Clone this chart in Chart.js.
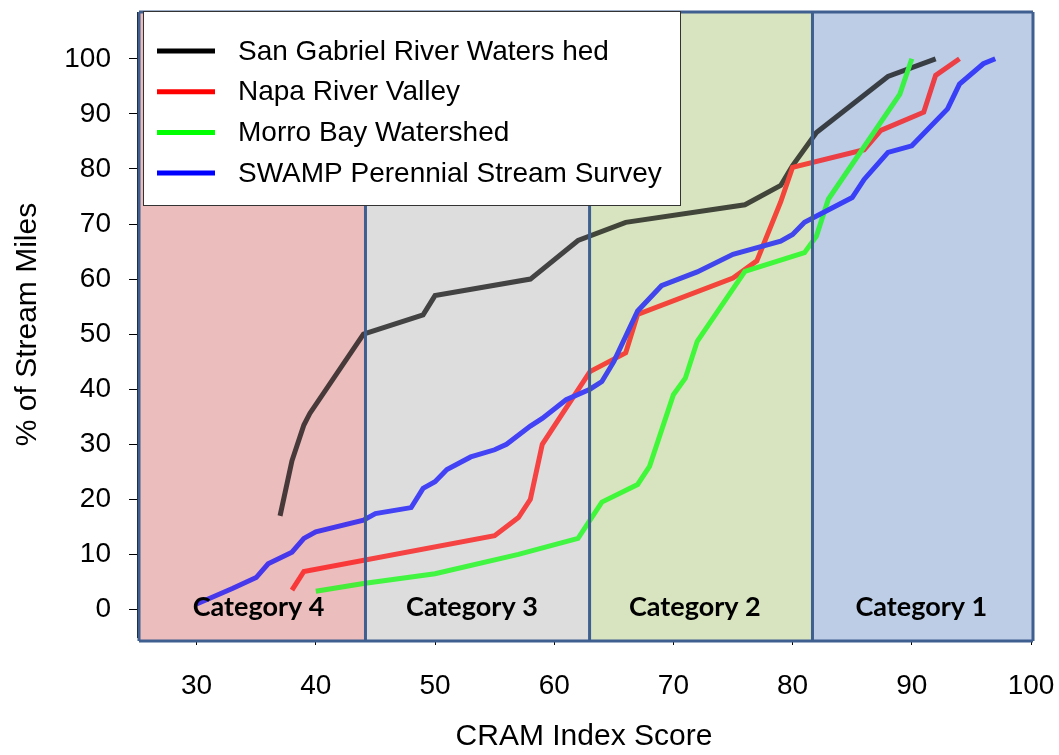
<!DOCTYPE html>
<html>
<head>
<meta charset="utf-8">
<script src="https://cdn.jsdelivr.net/npm/chart.js@4/dist/chart.umd.min.js"></script>
<style>
  html, body { margin: 0; padding: 0; background: #fff; }
  #wrap { width: 1059px; height: 755px; position: relative; }
</style>
</head>
<body>
<div id="wrap"><canvas id="cramChart"></canvas></div>
<script>
// Cumulative % of stream miles vs CRAM index score
const seriesNames = ["San Gabriel River Waters hed", "Napa River Valley", "Morro Bay Watershed", "SWAMP Perennial Stream Survey"];
const seriesColors = ["#000000", "#ff0000", "#00ff00", "#0000ff"];

const sanGabrielX = [37, 38, 39, 39.5, 44, 49, 50, 58, 62, 66, 76, 79, 80, 82, 88, 92];
const sanGabrielY = [17, 27, 33.5, 35.6, 50, 53.5, 57, 60, 67, 70.3, 73.5, 77, 80.6, 86.6, 96.8, 100];

const napaX = [38, 39, 55, 57, 58, 59, 63, 66, 67, 75, 77, 79, 80, 86, 87.4, 91, 92, 94];
const napaY = [3.5, 6.9, 13.4, 16.7, 20, 30, 43.2, 46.6, 53.6, 60.2, 63.3, 74, 80.3, 83.5, 87, 90.3, 97, 100];

const morroX = [40, 44, 50, 57, 62, 64, 67, 68, 70, 71, 72, 76, 81, 82, 83, 89, 90];
const morroY = [3.3, 4.7, 6.5, 10, 12.9, 19.5, 22.7, 26, 39, 42, 48.7, 61.4, 64.8, 67.8, 74.5, 93.6, 100];

const swampX = [30, 33, 35, 36, 38, 39, 40, 44, 45, 48, 49, 50, 51, 53, 55, 56, 58, 59, 61, 63, 64, 65, 67, 69, 72, 75, 79, 80, 81, 85, 86, 88, 90, 93, 94, 96, 97];
const swampY = [1, 3.8, 5.8, 8.3, 10.4, 12.9, 14.1, 16.2, 17.4, 18.5, 22, 23.2, 25.4, 27.7, 29, 30, 33.3, 34.7, 38.1, 40, 41.4, 45, 54.2, 58.8, 61.3, 64.5, 66.9, 68.1, 70.3, 74.8, 78.1, 83, 84.2, 90.9, 95.4, 99.1, 100];

const xTicks = [30, 40, 50, 60, 70, 80, 90, 100];
const yTicks = [0, 10, 20, 30, 40, 50, 60, 70, 80, 90, 100];

// category bands (score ranges) and their labels
const bandEdges = [25, 44, 62.8, 81.5, 100];
const bandColors = ["#ecbdbd", "#dddddd", "#d8e4bf", "#bccde5"];
const bandLabels = ["Category 4", "Category 3", "Category 2", "Category 1"];
const bandLabelX = [35.2, 53.1, 71.8, 90.8];

const toPoints = (xs, ys) => xs.map((x, i) => ({ x: x, y: ys[i] }));
const allX = [sanGabrielX, napaX, morroX, swampX];
const allY = [sanGabrielY, napaY, morroY, swampY];

const bandsPlugin = {
    id: "bands",
    beforeDatasetsDraw(chart) {
        const { ctx, chartArea, scales } = chart;
        ctx.save();
        for (let i = 0; i < bandColors.length; i++) {
            const x0 = scales.x.getPixelForValue(bandEdges[i]);
            const x1 = scales.x.getPixelForValue(bandEdges[i + 1]);
            ctx.fillStyle = bandColors[i];
            ctx.fillRect(x0 + 2, chartArea.top, x1 - x0, chartArea.bottom - chartArea.top + 4);
        }
        ctx.restore();
    },
    afterDatasetsDraw(chart) {
        const { ctx, chartArea, scales } = chart;
        const top = chartArea.top;
        const bottom = chartArea.bottom + 4;
        ctx.save();
        // tint the lines with the band colour
        ctx.globalAlpha = 0.3;
        for (let i = 0; i < bandColors.length; i++) {
            const x0 = scales.x.getPixelForValue(bandEdges[i]);
            const x1 = scales.x.getPixelForValue(bandEdges[i + 1]);
            ctx.fillStyle = bandColors[i];
            ctx.fillRect(x0 + 2, top, x1 - x0, bottom - top);
        }
        ctx.globalAlpha = 1;
        // band borders
        ctx.strokeStyle = "#3e5f8f";
        ctx.lineWidth = 3;
        for (let i = 0; i < bandEdges.length; i++) {
            const x = scales.x.getPixelForValue(bandEdges[i]) + 2;
            ctx.beginPath();
            ctx.moveTo(x, top);
            ctx.lineTo(x, bottom);
            ctx.stroke();
        }
        ctx.beginPath();
        ctx.moveTo(scales.x.getPixelForValue(25) + 2, top);
        ctx.lineTo(scales.x.getPixelForValue(100) + 2, top);
        ctx.moveTo(scales.x.getPixelForValue(25) + 2, bottom);
        ctx.lineTo(scales.x.getPixelForValue(100) + 2, bottom);
        ctx.stroke();
        // category labels
        ctx.fillStyle = "#000";
        ctx.font = "bold 27px Lato, 'Open Sans', sans-serif";
        ctx.textAlign = "center";
        ctx.textBaseline = "middle";
        for (let i = 0; i < bandLabels.length; i++) {
            ctx.fillText(bandLabels[i], scales.x.getPixelForValue(bandLabelX[i]), scales.y.getPixelForValue(0) - 2);
        }
        ctx.restore();
    },
    afterDraw(chart) {
        // legend box inside the plot, top-left
        const { ctx, chartArea } = chart;
        const left = chartArea.left + 6;
        const top = 11;
        ctx.save();
        ctx.fillStyle = "#fff";
        ctx.fillRect(left, top, 537, 194);
        ctx.strokeStyle = "#333";
        ctx.lineWidth = 1;
        ctx.strokeRect(left + 0.5, top + 0.5, 537, 194);
        ctx.font = "28px 'Liberation Sans', Arial, sans-serif";
        ctx.textBaseline = "middle";
        ctx.textAlign = "left";
        chart.data.datasets.forEach((ds, i) => {
            const y = top + 40 + i * 40.7;
            ctx.strokeStyle = ds.borderColor;
            ctx.lineWidth = 5;
            ctx.beginPath();
            ctx.moveTo(left + 14, y);
            ctx.lineTo(left + 72, y);
            ctx.stroke();
            ctx.fillStyle = "#000";
            ctx.fillText(ds.label, left + 95, y + 1);
        });
        ctx.restore();
    }
};

const ctx = document.getElementById("cramChart").getContext("2d");
new Chart(ctx, {
    type: "line",
    data: {
        datasets: seriesNames.map((name, i) => ({
            label: name,
            data: toPoints(allX[i], allY[i]),
            borderColor: seriesColors[i],
            backgroundColor: seriesColors[i],
            borderWidth: 5,
            pointRadius: 0,
            tension: 0,
            fill: false,
            order: 4 - i
        }))
    },
    options: {
        responsive: true,
        maintainAspectRatio: false,
        animation: false,
        layout: { padding: { top: 12, right: 28, left: 0, bottom: 0 } },
        plugins: {
            legend: { display: false },
            tooltip: { enabled: false }
        },
        scales: {
            x: {
                type: "linear",
                min: 25,
                max: 100,
                z: 1,
                afterBuildTicks: (s) => { s.ticks = xTicks.map(v => ({ value: v })); },
                afterFit: (s) => { s.height = 118; s.paddingLeft = 0; s.paddingRight = 0; },
                grid: { drawOnChartArea: false, drawTicks: true, tickLength: 8, color: "#000" },
                border: { color: "#1f2f4f", width: 1 },
                ticks: {
                    color: "#000",
                    padding: 24,
                    font: { family: "'Liberation Sans', Arial, sans-serif", size: 28 }
                },
                title: {
                    display: true,
                    text: "CRAM Index Score",
                    color: "#000",
                    padding: { top: 0, bottom: 0 },
                    font: { family: "'Liberation Sans', Arial, sans-serif", size: 30 }
                }
            },
            y: {
                type: "linear",
                min: -5,
                max: 108.5,
                z: 1,
                afterBuildTicks: (s) => { s.ticks = yTicks.map(v => ({ value: v })); },
                afterFit: (s) => { s.width = 137; s.paddingTop = 0; s.paddingBottom = 0; },
                grid: { drawOnChartArea: false, drawTicks: true, tickLength: 8, color: "#000" },
                border: { color: "#000", width: 1 },
                ticks: {
                    color: "#000",
                    padding: 18,
                    font: { family: "'Liberation Sans', Arial, sans-serif", size: 28 }
                },
                title: {
                    display: true,
                    text: "% of Stream Miles",
                    color: "#000",
                    padding: { top: 10, bottom: 0 },
                    font: { family: "'Liberation Sans', Arial, sans-serif", size: 30 }
                }
            }
        }
    },
    plugins: [bandsPlugin]
});
</script>
</body>
</html>
